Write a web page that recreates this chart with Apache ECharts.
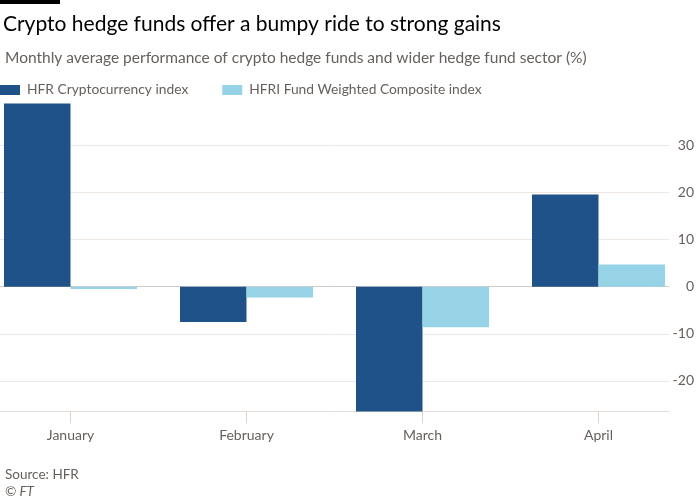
<!DOCTYPE html>
<html><head><meta charset="utf-8">
<script src="https://cdn.jsdelivr.net/npm/echarts@6/dist/echarts.min.js"></script>
<style>html,body{margin:0;padding:0;background:#fff}#c{width:700px;height:500px}</style>
</head><body><div id="c"></div>
<script>
var categories = ['January', 'February', 'March', 'April'];
var cryptoIndex = [38.9, -7.5, -26.5, 19.6];
var compositeIndex = [-0.5, -2.3, -8.6, 4.7];
var yTicks = [-20, -10, 0, 10, 20, 30];
var seriesNames = ['HFR Cryptocurrency index', 'HFRI Fund Weighted Composite index'];

var FONT = 'Lato';
var dark = '#1f5289', light = '#96d3e6';
var grid = '#ede6e1';
var chart = echarts.init(document.getElementById('c'));
chart.setOption({
  animation: false,
  textStyle: { fontFamily: FONT },
  title: [
    { text: 'Crypto hedge funds offer a bumpy ride to strong gains', left: -2, top: 9,
      textStyle: { fontFamily: FONT, fontSize: 21, fontWeight: 'normal', color: '#000' } },
    { text: 'Monthly average performance of crypto hedge funds and wider hedge fund sector (%)', left: 0, top: 45,
      textStyle: { fontFamily: FONT, fontSize: 15.5, fontWeight: 'normal', color: '#66605c' } },
    { text: 'Source: HFR', left: 0, top: 463,
      textStyle: { fontFamily: FONT, fontSize: 13.5, fontWeight: 'normal', color: '#66605c' } },
    { text: '© FT', left: 0, top: 480,
      textStyle: { fontFamily: FONT, fontSize: 13.5, fontWeight: 'normal', fontStyle: 'italic', color: '#66605c' } }
  ],
  graphic: [{ type: 'rect', left: 0, top: 0, shape: { width: 60, height: 4 }, style: { fill: '#000' } }],
  legend: {
    left: 0, top: 83, padding: 0, itemWidth: 20, itemHeight: 10, itemGap: 34, icon: 'rect',
    textStyle: { fontFamily: FONT, fontSize: 13.8, color: '#66605c', padding: [0, 0, 0, 2] },
    data: seriesNames
  },
  grid: [
    { left: -17.5, width: 704, top: 103.6, height: 307.8, outerBoundsMode: 'none', containLabel: false },
    { left: 0, width: 669, top: 98.4, height: 329.5, outerBoundsMode: 'none', containLabel: false },
    { left: 0, width: 669, top: 103.6, height: 307.8, outerBoundsMode: 'none', containLabel: false }
  ],
  xAxis: [
    { type: 'category', gridIndex: 0, data: categories,
      axisLine: { show: false, onZero: false },
      axisTick: { show: true, alignWithLabel: true, length: 12, lineStyle: { color: '#d9d4d0' } },
      axisLabel: { margin: 17, fontSize: 14, color: '#66605c', fontFamily: FONT } },
    { type: 'value', gridIndex: 1, show: false },
    { type: 'value', gridIndex: 2, min: 0, max: 1, axisLine: { show: true, onZero: false, lineStyle: { color: '#e3dcd7' } },
      axisTick: { show: false }, axisLabel: { show: false }, splitLine: { show: false } }
  ],
  yAxis: [
    { type: 'value', gridIndex: 0, min: -26.5, max: 38.9, show: false, splitLine: { show: false } },
    { type: 'value', gridIndex: 1, position: 'right', min: -30, max: 40, interval: 10,
      axisLine: { show: false }, axisTick: { show: false },
      axisLabel: { margin: 25, align: 'right', fontSize: 14, color: '#66605c', fontFamily: FONT,
        formatter: function (v) { return yTicks.indexOf(v) >= 0 ? String(v) : ''; } },
      splitLine: { show: true, lineStyle: { width: 1, color: ['transparent', grid, grid, '#cfcac6', grid, grid, grid, 'transparent'] } } },
    { type: 'value', gridIndex: 2, min: -26.5, max: 38.9, show: false, splitLine: { show: false } }
  ],
  series: [
    { name: seriesNames[0], type: 'bar', xAxisIndex: 0, yAxisIndex: 0, data: cryptoIndex,
      barGap: '0%', barCategoryGap: '24.4%', itemStyle: { color: dark }, z: 3 },
    { name: seriesNames[1], type: 'bar', xAxisIndex: 0, yAxisIndex: 0, data: compositeIndex,
      barGap: '0%', barCategoryGap: '24.4%', itemStyle: { color: light }, z: 3 }
  ]
});
</script></body></html>
